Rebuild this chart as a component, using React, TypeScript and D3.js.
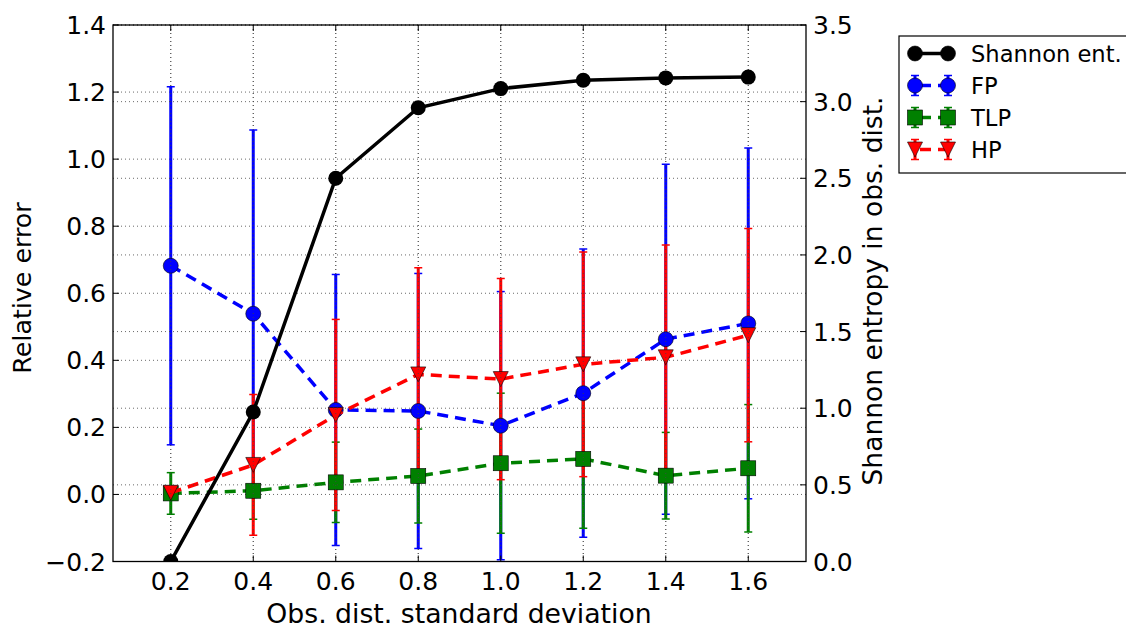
import React from "react";
import * as d3 from "d3";

// Observation distribution standard deviation (x)
const sigmas = [0.2, 0.4, 0.6, 0.8, 1.0, 1.2, 1.4, 1.6];

// Shannon entropy of the observation distribution (right axis)
const entropy = [0.0, 0.975, 2.5, 2.96, 3.085, 3.14, 3.155, 3.16];

// Relative error per method (left axis) with symmetric error bars
const fpMean = [0.682, 0.539, 0.252, 0.249, 0.205, 0.302, 0.463, 0.51];
const fpErr = [0.534, 0.548, 0.404, 0.41, 0.4, 0.43, 0.522, 0.523];
const tlpMean = [0.003, 0.011, 0.036, 0.055, 0.093, 0.106, 0.056, 0.078];
const tlpErr = [0.062, 0.085, 0.12, 0.14, 0.209, 0.207, 0.129, 0.19];
const hpMean = [0.005, 0.088, 0.237, 0.358, 0.344, 0.388, 0.409, 0.475];
const hpErr = [0.015, 0.21, 0.285, 0.318, 0.3, 0.335, 0.335, 0.318];

const leftTicks = [-0.2, 0.0, 0.2, 0.4, 0.6, 0.8, 1.0, 1.2, 1.4];
const rightTicks = [0.0, 0.5, 1.0, 1.5, 2.0, 2.5, 3.0, 3.5];

const W = 1126;
const H = 630;
const L = 113;
const R = 806;
const T = 25;
const B = 561.5;
const FONT = "DejaVu Sans";

const x = d3.scaleLinear().domain([0.06, 1.74]).range([L, R]);
const yL = d3.scaleLinear().domain([-0.2, 1.4]).range([B, T]);
const yR = d3.scaleLinear().domain([0, 3.5]).range([B, T]);

const fmt = (v: number) => (v < 0 ? "\u2212" : "") + Math.abs(v).toFixed(1);

type Series = {
  name: string;
  color: string;
  mean: number[];
  err: number[];
  marker: "circle" | "square" | "tri";
};

const series: Series[] = [
  { name: "FP", color: "#0000ff", mean: fpMean, err: fpErr, marker: "circle" },
  { name: "TLP", color: "#008000", mean: tlpMean, err: tlpErr, marker: "square" },
  { name: "HP", color: "#ff0000", mean: hpMean, err: hpErr, marker: "tri" },
];

function Marker({ kind, cx, cy, color }: { kind: string; cx: number; cy: number; color: string }) {
  if (kind === "circle")
    return <circle cx={cx} cy={cy} r={7.5} fill={color} stroke="#000" strokeWidth={0.6} />;
  if (kind === "square")
    return <rect x={cx - 7.5} y={cy - 7.5} width={15} height={15} fill={color} stroke="#000" strokeWidth={0.6} />;
  const s = 7.5;
  return (
    <path
      d={`M${cx},${cy + s}L${cx - s},${cy - s}L${cx + s},${cy - s}Z`}
      fill={color}
      stroke="#000"
      strokeWidth={0.6}
    />
  );
}

function ErrBar({ cx, y0, y1, color }: { cx: number; y0: number; y1: number; color: string }) {
  return (
    <g stroke={color}>
      <line x1={cx} x2={cx} y1={y0} y2={y1} strokeWidth={3} />
      <line x1={cx - 4} x2={cx + 4} y1={y0} y2={y0} strokeWidth={1.5} />
      <line x1={cx - 4} x2={cx + 4} y1={y1} y2={y1} strokeWidth={1.5} />
    </g>
  );
}

function Grid({ hTicks, yScale }: { hTicks: number[]; yScale: d3.ScaleLinear<number, number> }) {
  return (
    <g stroke="#444" strokeWidth={0.8} strokeDasharray="1,3">
      {hTicks.map((t) => (
        <line key={"h" + t} x1={L} x2={R} y1={yScale(t)} y2={yScale(t)} />
      ))}
      {sigmas.map((t) => (
        <line key={"v" + t} x1={x(t)} x2={x(t)} y1={T} y2={B} />
      ))}
    </g>
  );
}

export default function App() {
  const dashedLine = d3
    .line<number>()
    .x((_, i) => x(sigmas[i]))
    .y((d) => yL(d));
  const entLine = d3
    .line<number>()
    .x((_, i) => x(sigmas[i]))
    .y((d) => yR(d));

  const legendRows = [
    { name: "Shannon ent.", color: "#000", marker: "circle", solid: true },
    ...series.map((s) => ({ name: s.name, color: s.color, marker: s.marker, solid: false })),
  ];
  const lx0 = 915;
  const lx1 = 948;

  return (
    <svg
      width={W}
      height={H}
      style={{ position: "absolute", left: 0, top: 0, background: "#fff" }}
      fontFamily={FONT}
    >
      <defs>
        <clipPath id="plotArea">
          <rect x={L} y={T} width={R - L} height={B - T} />
        </clipPath>
      </defs>
      <rect x={0} y={0} width={W} height={H} fill="#fff" />

      {/* left-axis grid */}
      <Grid hTicks={leftTicks} yScale={yL} />

      <g clipPath="url(#plotArea)">
        {/* error bars */}
        {series.map((s) =>
          s.mean.map((m, i) => (
            <ErrBar
              key={s.name + i}
              cx={x(sigmas[i])}
              y0={yL(m + s.err[i])}
              y1={yL(m - s.err[i])}
              color={s.color}
            />
          ))
        )}
        {/* dashed lines and markers */}
        {series.map((s) => (
          <g key={s.name}>
            <path d={dashedLine(s.mean) || ""} fill="none" stroke={s.color} strokeWidth={3.5} strokeDasharray="11,7" />
            {s.mean.map((m, i) => (
              <Marker key={i} kind={s.marker} cx={x(sigmas[i])} cy={yL(m)} color={s.color} />
            ))}
          </g>
        ))}
      </g>

      {/* right-axis grid, drawn above the left-axis content */}
      <Grid hTicks={rightTicks} yScale={yR} />

      <g clipPath="url(#plotArea)">
        <path d={entLine(entropy) || ""} fill="none" stroke="#000" strokeWidth={3.5} />
        {entropy.map((v, i) => (
          <circle key={i} cx={x(sigmas[i])} cy={yR(v)} r={7.5} fill="#000" />
        ))}
      </g>

      {/* frame */}
      <rect x={L} y={T} width={R - L} height={B - T} fill="none" stroke="#000" strokeWidth={1.3} />

      {/* ticks */}
      <g stroke="#000" strokeWidth={1}>
        {leftTicks.map((t) => (
          <line key={"lt" + t} x1={L} x2={L + 6} y1={yL(t)} y2={yL(t)} />
        ))}
        {rightTicks.map((t) => (
          <line key={"rt" + t} x1={R - 6} x2={R} y1={yR(t)} y2={yR(t)} />
        ))}
        {sigmas.map((t) => (
          <g key={"xt" + t}>
            <line x1={x(t)} x2={x(t)} y1={B} y2={B - 6} />
            <line x1={x(t)} x2={x(t)} y1={T} y2={T + 6} />
          </g>
        ))}
      </g>

      {/* tick labels */}
      <g fontSize={25} fill="#000">
        {leftTicks.map((t) => (
          <text key={"ll" + t} x={L - 7} y={yL(t)} dy="0.36em" textAnchor="end">
            {fmt(t)}
          </text>
        ))}
        {rightTicks.map((t) => (
          <text key={"rl" + t} x={R + 7} y={yR(t)} dy="0.36em" textAnchor="start">
            {fmt(t)}
          </text>
        ))}
        {sigmas.map((t) => (
          <text key={"xl" + t} x={x(t)} y={B + 28} textAnchor="middle">
            {fmt(t)}
          </text>
        ))}
      </g>

      {/* axis titles */}
      <text x={459} y={623} fontSize={26.7} textAnchor="middle">
        Obs. dist. standard deviation
      </text>
      <text transform="translate(31,288) rotate(-90)" fontSize={25.3} textAnchor="middle">
        Relative error
      </text>
      <text transform="translate(882,291) rotate(-90)" fontSize={26.5} textAnchor="middle">
        Shannon entropy in obs. dist.
      </text>

      {/* legend */}
      <g>
        <rect x={899} y={36} width={260} height={137} fill="#fff" stroke="#000" strokeWidth={1.2} />
        {legendRows.map((r, k) => {
          const cy = 53.5 + k * 32;
          return (
            <g key={r.name}>
              {r.solid ? (
                <line x1={lx0} x2={lx1} y1={cy} y2={cy} stroke="#000" strokeWidth={3.5} />
              ) : (
                <>
                  <line x1={lx0} x2={lx1} y1={cy} y2={cy} stroke={r.color} strokeWidth={3.5} strokeDasharray="11,7" strokeDashoffset={-5} />
                  <ErrBar cx={lx0} y0={cy - 10} y1={cy + 10} color={r.color} />
                  <ErrBar cx={lx1} y0={cy - 10} y1={cy + 10} color={r.color} />
                </>
              )}
              <Marker kind={r.marker} cx={lx0} cy={cy} color={r.color} />
              <Marker kind={r.marker} cx={lx1} cy={cy} color={r.color} />
              <text x={971} y={cy} dy="0.36em" fontSize={22.6}>
                {r.name}
              </text>
            </g>
          );
        })}
      </g>
    </svg>
  );
}
